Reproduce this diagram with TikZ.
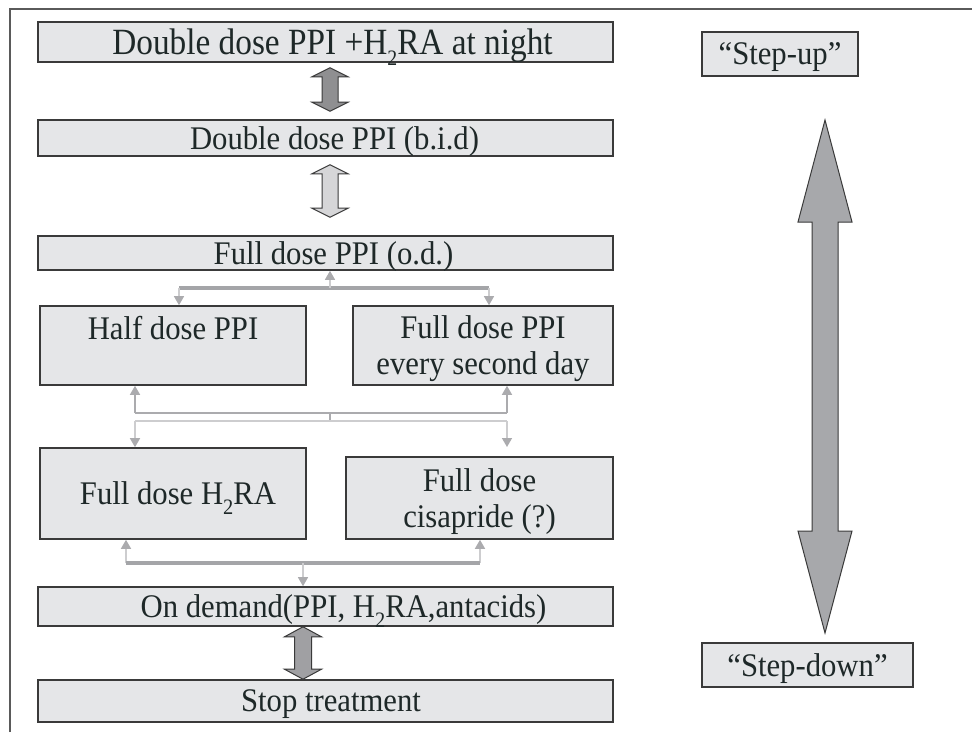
\documentclass[tikz,border=0pt]{standalone}
\usepackage{fontspec}
\setmainfont{Liberation Serif}[FakeStretch=0.93]
\newfontfamily\condfont{Liberation Serif}[FakeStretch=0.9]
\usetikzlibrary{arrows.meta,calc}
\definecolor{boxfill}{HTML}{E5E6E8}
\definecolor{boxline}{HTML}{3A3A3A}
\definecolor{txt}{HTML}{1E2828}
\definecolor{framec}{HTML}{5A5A5A}
\definecolor{barc}{HTML}{A4A5A8}
\definecolor{midc}{HTML}{ABABAE}
\definecolor{lightc}{HTML}{CDCDCF}
\definecolor{arrA}{HTML}{8F8F91}
\definecolor{arrB}{HTML}{D6D6D8}
\definecolor{arrC}{HTML}{A0A0A3}
\definecolor{bigc}{HTML}{A7A8AB}
\newcommand{\twowayarrow}[6]{%
  \draw[#6] let \p1=#1, \p2=#2 in
    (\x1,\y1) -- (\x1+#3pt,\y1-#5pt) -- (\x1+#4pt,\y1-#5pt) -- (\x1+#4pt,\y2+#5pt)
    -- (\x1+#3pt,\y2+#5pt) -- (\x1,\y2) -- (\x1-#3pt,\y2+#5pt) -- (\x1-#4pt,\y2+#5pt)
    -- (\x1-#4pt,\y1-#5pt) -- (\x1-#3pt,\y1-#5pt) -- cycle;}
\newcommand{\subtwo}{\raisebox{-0.28em}{\fontsize{22}{22}\selectfont 2}}
\newcommand{\pushright}[1]{\hspace*{#1pt}}
\begin{document}
\begin{tikzpicture}[x=1pt,y=-1pt,
  box/.style={draw=boxline, line width=1.6pt, fill=boxfill, text=txt, inner sep=0pt,
    align=center, text depth=0pt, font=\fontsize{33}{36}\selectfont},
  dblarr/.style={draw=boxline, line width=1pt, line join=miter},
  thickbar/.style={draw=barc, line width=4.5pt},
  conn/.style={draw=midc, line width=1.5pt},
  lconn/.style={draw=lightc, line width=1.5pt},
  tip/.style={-{Triangle[width=10pt,length=9pt,fill=midc,color=midc]}}]
\useasboundingbox (0,0) rectangle (972,732);
% frame
\draw[framec, line width=2pt] (10,732) -- (10,9) -- (972,9);
% boxes
\node[box, minimum width=575pt, minimum height=40pt, font=\condfont\fontsize{37}{38}\selectfont] (b1) at (325.5,42)
  {\pushright{14}Double dose PPI +H\subtwo RA at night};
\node[box, minimum width=575pt, minimum height=36pt] (b2) at (325.5,138) {\pushright{18}Double dose PPI (b.i.d)};
\node[box, minimum width=575pt, minimum height=34pt] (b3) at (325.5,253) {\pushright{16}Full dose PPI (o.d.)};
\node[box, minimum width=266pt, minimum height=79pt] (b4) at (173,345.5) {Half dose PPI\\\strut};
\node[box, minimum width=260pt, minimum height=79pt] (b5) at (483,345.5) {Full dose PPI\\every second day};
\node[box, minimum width=266pt, minimum height=91pt] (b6) at (173,493.5) {\pushright{10}Full dose H\subtwo RA};
\node[box, minimum width=267pt, minimum height=82pt] (b7) at (479.5,498) {Full dose\\cisapride (?)};
\node[box, minimum width=575pt, minimum height=39pt] (b8) at (325.5,606.5) {\pushright{36}On demand(PPI, H\subtwo RA,antacids)};
\node[box, minimum width=575pt, minimum height=42pt] (b9) at (325.5,701) {\pushright{11}Stop treatment};
\node[box, minimum width=156pt, minimum height=44pt] (su) at (780,54) {“Step-up”};
\node[box, minimum width=211pt, minimum height=44pt] (sd) at (807.5,665) {“Step-down”};
% two-way arrows between stacked boxes
\twowayarrow{($(b1.south)+(4.5,5)$)}{($(b2.north)+(4.5,-8)$)}{18}{8}{9}{dblarr, fill=arrA}
\twowayarrow{($(b2.south)+(4.5,8)$)}{($(b3.north)+(4.5,-18)$)}{18}{8}{9}{dblarr, fill=arrB}
\twowayarrow{($(b8.south)+(-22.5,0)$)}{($(b9.north)+(-22.5,0)$)}{18.5}{8.5}{10}{dblarr, fill=arrC}
% big step-up / step-down arrow
\coordinate (upTip) at (825,120);
\coordinate (downTip) at (825,633);
\twowayarrow{(upTip)}{(downTip)}{27}{13}{102}{dblarr, fill=bigc}
% connectors b3 <-> b4,b5
\coordinate (jA) at (330,288);
\coordinate (jAl) at (179,288);
\coordinate (jAr) at (489,288);
\draw[thickbar] (jAl) -- (jAr);
\draw[draw=lightc, line width=1.2pt, tip] (jA) -- (jA |- b3.south);
\draw[draw=lightc, line width=1.2pt, tip] (jAl) -- (jAl |- b4.north);
\draw[draw=lightc, line width=1.2pt, tip] (jAr) -- (jAr |- b5.north);
% connectors b4,b5 <-> b6,b7
\coordinate (jBl) at (135,413);
\coordinate (jBr) at (507,413);
\coordinate (jBm) at (330,413);
\coordinate (jCm) at (330,421);
\coordinate (jCl) at (135,421);
\coordinate (jCr) at (507,421);
\coordinate (jCrEnd) at (507,447);
\draw[conn] (jBl) -- (jBr);
\draw[conn] (jBm) -- (jCm);
\draw[conn, tip] (jBl) -- (jBl |- b4.south);
\draw[conn, tip] (jBr) -- (jBr |- b5.south);
\draw[lconn] (jCl) -- (jCr);
\draw[lconn, tip] (jCl) -- (jCl |- b6.north);
\draw[lconn, tip] (jCr) -- (jCrEnd);
% connectors b6,b7 <-> b8
\coordinate (jDl) at (126,563);
\coordinate (jDr) at (480,563);
\coordinate (jDm) at (303,563);
\draw[lconn, tip] (jDl) -- (jDl |- b6.south);
\draw[lconn, tip] (jDr) -- (jDr |- b7.south);
\draw[thickbar] (jDl) -- (jDr);
\draw[draw=lightc, line width=1.2pt, tip] (jDm) -- (jDm |- b8.north);
\end{tikzpicture}
\end{document}
